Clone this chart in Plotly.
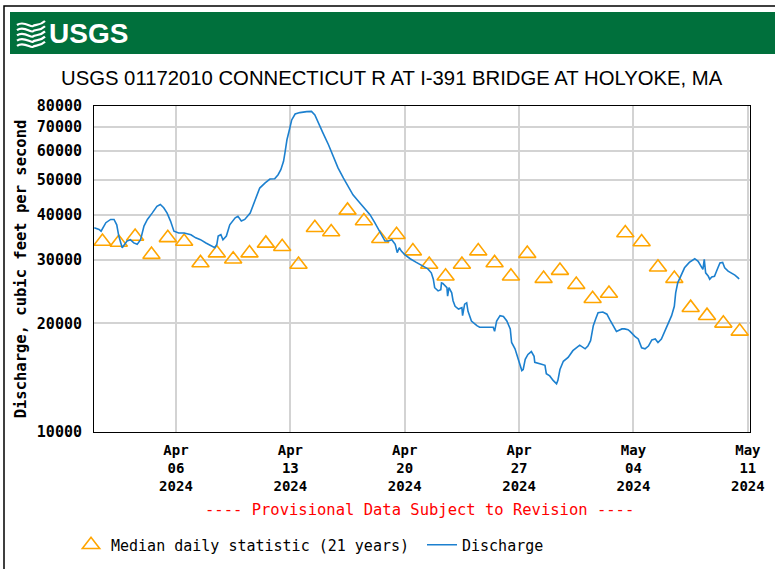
import math
import pandas as pd
import plotly.graph_objects as go

# ---------------- data ----------------
site_title = "USGS 01172010 CONNECTICUT R AT I-391 BRIDGE AT HOLYOKE, MA"

discharge_time = [
    "2024-04-01 00:00", "2024-04-01 07:00", "2024-04-01 10:00", "2024-04-01 17:00",
    "2024-04-02 00:00", "2024-04-02 05:00", "2024-04-02 09:00", "2024-04-02 12:00",
    "2024-04-02 17:00", "2024-04-02 20:00", "2024-04-03 00:00", "2024-04-03 05:00",
    "2024-04-03 10:00", "2024-04-03 15:00", "2024-04-03 20:00", "2024-04-04 01:00",
    "2024-04-04 06:00", "2024-04-04 13:00", "2024-04-04 20:00", "2024-04-05 01:00",
    "2024-04-05 06:00", "2024-04-05 11:00", "2024-04-05 16:00", "2024-04-05 21:00",
    "2024-04-06 04:00", "2024-04-06 12:00", "2024-04-06 22:00", "2024-04-07 05:00",
    "2024-04-07 12:00", "2024-04-07 20:00", "2024-04-08 04:00", "2024-04-08 09:00",
    "2024-04-08 12:00", "2024-04-08 14:00", "2024-04-08 18:00", "2024-04-08 21:00",
    "2024-04-09 02:00", "2024-04-09 07:00", "2024-04-09 15:00", "2024-04-09 19:00",
    "2024-04-10 00:00", "2024-04-10 05:00", "2024-04-10 13:00", "2024-04-10 17:00",
    "2024-04-10 22:00", "2024-04-11 03:00", "2024-04-11 11:00", "2024-04-11 18:00",
    "2024-04-12 01:00", "2024-04-12 06:00", "2024-04-12 10:00", "2024-04-12 14:00",
    "2024-04-12 16:00", "2024-04-12 19:00", "2024-04-12 22:00", "2024-04-13 02:00",
    "2024-04-13 07:00", "2024-04-13 14:00", "2024-04-14 00:00", "2024-04-14 07:00",
    "2024-04-14 12:00", "2024-04-14 17:00", "2024-04-15 00:00", "2024-04-15 08:00",
    "2024-04-15 15:00", "2024-04-15 22:00", "2024-04-16 06:00", "2024-04-16 13:00",
    "2024-04-16 20:00", "2024-04-17 04:00", "2024-04-17 14:00", "2024-04-17 21:00",
    "2024-04-18 04:00", "2024-04-18 12:00", "2024-04-18 19:00", "2024-04-19 00:00",
    "2024-04-19 05:00", "2024-04-19 10:00", "2024-04-19 13:00", "2024-04-19 16:00",
    "2024-04-19 19:00", "2024-04-20 00:00", "2024-04-20 08:00", "2024-04-20 17:00",
    "2024-04-21 03:00", "2024-04-21 10:00", "2024-04-21 15:00", "2024-04-21 18:00",
    "2024-04-21 20:00", "2024-04-22 01:00", "2024-04-22 05:00", "2024-04-22 06:00",
    "2024-04-22 08:00", "2024-04-22 14:00", "2024-04-22 15:00", "2024-04-22 17:00",
    "2024-04-22 21:00", "2024-04-22 23:00", "2024-04-23 02:00", "2024-04-23 07:00",
    "2024-04-23 12:00", "2024-04-23 13:00", "2024-04-23 16:00", "2024-04-23 19:00",
    "2024-04-23 21:00", "2024-04-24 02:00", "2024-04-24 10:00", "2024-04-24 14:00",
    "2024-04-25 10:00", "2024-04-25 12:00", "2024-04-25 15:00", "2024-04-25 20:00",
    "2024-04-26 01:00", "2024-04-26 06:00", "2024-04-26 11:00", "2024-04-26 13:00",
    "2024-04-26 18:00", "2024-04-26 23:00", "2024-04-27 04:00", "2024-04-27 06:00",
    "2024-04-27 09:00", "2024-04-27 13:00", "2024-04-27 18:00", "2024-04-27 22:00",
    "2024-04-27 23:00", "2024-04-28 09:00", "2024-04-28 14:00", "2024-04-28 16:00",
    "2024-04-28 21:00", "2024-04-29 02:00", "2024-04-29 07:00", "2024-04-29 09:00",
    "2024-04-29 12:00", "2024-04-29 17:00", "2024-04-30 00:00", "2024-04-30 07:00",
    "2024-04-30 12:00", "2024-04-30 17:00", "2024-05-01 01:00", "2024-05-01 05:00",
    "2024-05-01 09:00", "2024-05-01 13:00", "2024-05-01 17:00", "2024-05-01 20:00",
    "2024-05-02 03:00", "2024-05-02 09:00", "2024-05-02 13:00", "2024-05-02 18:00",
    "2024-05-02 23:00", "2024-05-03 07:00", "2024-05-03 11:00", "2024-05-03 16:00",
    "2024-05-03 19:00", "2024-05-04 02:00", "2024-05-04 07:00", "2024-05-04 12:00",
    "2024-05-04 17:00", "2024-05-04 22:00", "2024-05-05 03:00", "2024-05-05 08:00",
    "2024-05-05 12:00", "2024-05-05 17:00", "2024-05-05 22:00", "2024-05-06 03:00",
    "2024-05-06 08:00", "2024-05-06 12:00", "2024-05-06 14:00", "2024-05-06 17:00",
    "2024-05-06 23:00", "2024-05-07 03:00", "2024-05-07 10:00", "2024-05-07 18:00",
    "2024-05-07 23:00", "2024-05-08 03:00", "2024-05-08 06:00", "2024-05-08 08:00",
    "2024-05-08 10:00", "2024-05-08 14:00", "2024-05-08 16:00", "2024-05-08 19:00",
    "2024-05-08 23:00", "2024-05-09 03:00", "2024-05-09 07:00", "2024-05-09 11:00",
    "2024-05-09 14:00", "2024-05-09 19:00", "2024-05-10 00:00", "2024-05-10 05:00",
    "2024-05-10 10:00", "2024-05-10 11:00",
]

discharge_cfs = [
    36800, 36400, 36000, 38000,
    38800, 38800, 37500, 34900,
    32400, 33100, 33800, 34100,
    33400, 33100, 34100, 37200,
    38800, 40400, 42200, 42700,
    41800, 40400, 38400, 36000,
    35600, 35600, 35200, 34500,
    34100, 33400, 32700, 32400,
    33100, 34900, 35200, 34100,
    34900, 37500, 39200, 39600,
    38400, 38800, 40400, 42200,
    45000, 47400, 49000, 50200,
    50300, 51600, 53300, 56200,
    59200, 64500, 68000, 73200,
    76000, 76700, 77200, 77300,
    75600, 71700, 67300, 62500,
    58000, 53900, 50500, 47900,
    45400, 43600, 41300, 40000,
    38000, 35600, 33800, 33800,
    34100, 33100, 31400, 32400,
    31700, 31000, 30200, 29500,
    28700, 28300, 27600, 26500,
    25100, 24600, 24800, 25900,
    25800, 25100, 23800, 25100,
    24300, 23100, 22300, 21900,
    22100, 21000, 22600, 22800,
    21600, 20300, 19700, 19500,
    19500, 19000, 20300, 21000,
    20900, 20300, 19300, 17700,
    17000, 15900, 14800, 14900,
    15900, 16400, 16700, 16200,
    15600, 15400, 15300, 14500,
    14300, 13900, 13600, 13900,
    14900, 15700, 16100, 16800,
    17100, 17400, 17000, 17300,
    17900, 19700, 20700, 21400,
    21500, 21200, 20500, 19700,
    19000, 19300, 19300, 19200,
    19000, 18400, 18100, 17100,
    17000, 17300, 18000, 18100,
    17700, 18100, 19000, 19900,
    21000, 22300, 24300, 25900,
    27300, 28500, 29500, 30200,
    29700, 28800, 28200, 30100,
    27600, 27000, 26500, 26900,
    27000, 28200, 29400, 29500,
    28500, 27900, 27600, 27200,
    26700, 26500,
]

# daily median statistic (21 years), one value per day Apr 1 .. May 10 (plotted at noon)
median_dates = pd.date_range("2024-04-01 12:00", "2024-05-10 12:00", freq="D")
median_cfs = [
    33700, 33500, 34800, 31000, 34500, 33700, 29400, 31300, 30100, 31300,
    33300, 32600, 29100, 36800, 35800, 41100, 38400, 34300, 35200, 31700,
    29100, 27000, 29100, 31700, 29400, 27000, 31200, 26600, 28000, 25600,
    23400, 24200, 35600, 33600, 28600, 26600, 22100, 21000, 20000, 19000,
]

x_tick_dates = ["2024-04-06", "2024-04-13", "2024-04-20", "2024-04-27", "2024-05-04", "2024-05-11"]
x_tick_labels = ["Apr<br>06<br>2024", "Apr<br>13<br>2024", "Apr<br>20<br>2024",
                 "Apr<br>27<br>2024", "May<br>04<br>2024", "May<br>11<br>2024"]
y_tick_vals = [10000, 20000, 30000, 40000, 50000, 60000, 70000, 80000]
y_tick_labels = ["10000", "20000", "30000", "40000", "50000", "60000", "70000", "80000"]

# ---------------- layout helpers ----------------
W, H = 775, 569
L, R, T, B = 94, 750, 106, 432   # plot area in pixels


def pxx(x):
    return (x - L) / (R - L)


def pxy(y):
    return (B - y) / (B - T)


MONO = "DejaVu Sans Mono"
SANS = "Liberation Sans"

fig = go.Figure()
fig.add_trace(go.Scatter(
    x=median_dates, y=median_cfs, mode="markers",
    name="Median daily statistic (21 years)",
    marker=dict(symbol="triangle-up-open", size=15, color="#FFA500",
                line=dict(width=1.6, color="#FFA500")),
))
fig.add_trace(go.Scatter(
    x=discharge_time, y=discharge_cfs, mode="lines",
    name="Discharge",
    line=dict(color="#1C80CF", width=1.6),
))

fig.update_layout(
    width=W, height=H,
    margin=dict(l=L, r=W - R, t=T, b=H - B, pad=0, autoexpand=False),
    paper_bgcolor="white", plot_bgcolor="white",
    font=dict(family=MONO, size=15, color="black"),
    showlegend=True,
    legend=dict(orientation="h", x=pxx(71), xanchor="left", y=pxy(545), yanchor="middle",
                font=dict(family=MONO, size=15, color="black"),
                bgcolor="rgba(0,0,0,0)", itemwidth=30,
                entrywidth=306, entrywidthmode="pixels"),
)

fig.update_xaxes(
    type="date", range=["2024-03-31 23:35", "2024-05-11 03:10"],
    tickmode="array", tickvals=x_tick_dates, ticktext=x_tick_labels,
    showgrid=True, gridcolor="#d3d3d3", gridwidth=2,
    showline=True, linecolor="black", linewidth=1, mirror=True,
    ticks="", zeroline=False, ticklabelstandoff=5, automargin=False,
    tickfont=dict(family=MONO, size=14, color="black", weight="bold"),
)
fig.update_yaxes(
    type="log", range=[4, math.log10(80000)],
    tickmode="array", tickvals=y_tick_vals, ticktext=y_tick_labels,
    showgrid=True, gridcolor="#d3d3d3", gridwidth=2,
    showline=True, linecolor="black", linewidth=1, mirror=True,
    ticks="", zeroline=False, ticklabelstandoff=8, automargin=False,
    tickfont=dict(family=MONO, size=15, color="black", weight="bold"),
    title=dict(text="Discharge, cubic feet per second", standoff=6,
               font=dict(family=MONO, size=15.5, color="black", weight="bold")),
)

shapes = []
# outer frame
shapes.append(dict(type="rect", xref="paper", yref="paper",
                   x0=pxx(4), x1=pxx(790), y0=pxy(590), y1=pxy(6),
                   line=dict(color="black", width=1.5), fillcolor="rgba(0,0,0,0)", layer="above"))
# green banner
shapes.append(dict(type="rect", xref="paper", yref="paper",
                   x0=pxx(10), x1=pxx(790), y0=pxy(54), y1=pxy(12),
                   line=dict(width=0), fillcolor="#00703C", layer="below"))
# USGS wave icon
for i in range(5):
    y0 = 23 + i * 5.2
    path = "M {:.5f},{:.5f} C {:.5f},{:.5f} {:.5f},{:.5f} {:.5f},{:.5f} S {:.5f},{:.5f} {:.5f},{:.5f}".format(
        pxx(17), pxy(y0 + 2),
        pxx(24), pxy(y0 - 3),
        pxx(31), pxy(y0 + 5),
        pxx(33), pxy(y0 + 3),
        pxx(40), pxy(y0 + 3),
        pxx(45), pxy(y0 - 2))
    shapes.append(dict(type="path", xref="paper", yref="paper", path=path,
                       line=dict(color="white", width=2.2)))
fig.update_layout(shapes=shapes)

annotations = [
    dict(text="USGS", x=pxx(47), y=pxy(33.5), xref="paper", yref="paper",
         xanchor="left", yanchor="middle", showarrow=False,
         font=dict(family=SANS, size=28, color="white", weight="bold")),
    dict(text=site_title, x=pxx(392), y=pxy(78), xref="paper", yref="paper",
         xanchor="center", yanchor="middle", showarrow=False,
         font=dict(family=SANS, size=20.3, color="black")),
    dict(text="---- Provisional Data Subject to Revision ----", x=pxx(419), y=pxy(510),
         xref="paper", yref="paper", xanchor="center", yanchor="middle", showarrow=False,
         font=dict(family=MONO, size=15.5, color="#FF0000")),
]
fig.update_layout(annotations=annotations)

fig.write_html("out.html", post_script="document.body.style.margin='0px';",
               config={"displayModeBar": False})
